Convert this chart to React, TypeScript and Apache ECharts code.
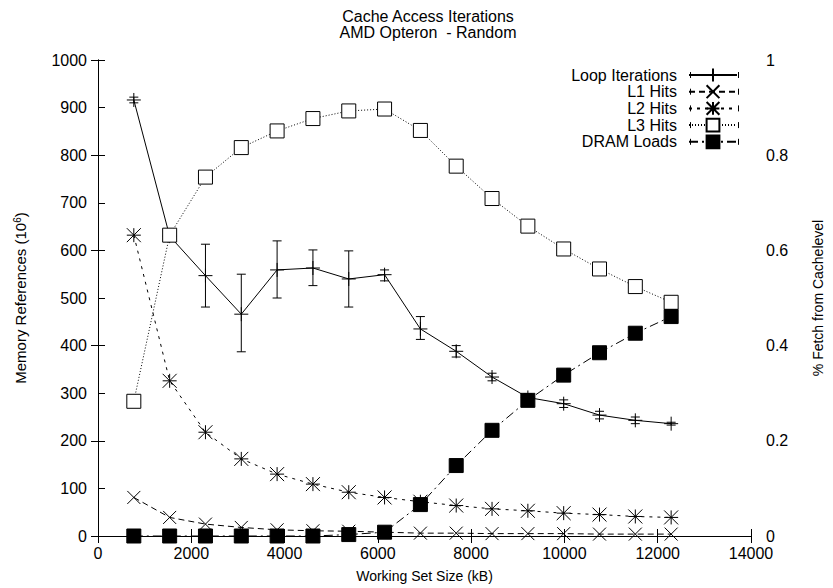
import React, { useEffect, useRef } from "react";
import * as echarts from "echarts";

const workingSetKB = [768, 1536, 2304, 3072, 3840, 4608, 5376, 6144, 6912, 7680, 8448, 9216, 9984, 10752, 11520, 12288];
const loopIterations = [916, 630, 547, 466, 559, 563, 540, 549, 435, 388, 334, 291, 278, 254, 243, 236];
const loopLow = [910, 625, 481, 387, 500, 526, 481, 536, 413, 376, 326, 283, 270, 246, 236, 233];
const loopHigh = [922, 635, 613, 550, 620, 601, 599, 559, 461, 400, 342, 299, 286, 262, 250, 239];
const l1Hits = [0.081, 0.039, 0.025, 0.018, 0.013, 0.011, 0.01, 0.008, 0.006, 0.006, 0.005, 0.005, 0.005, 0.004, 0.004, 0.004];
const l2Hits = [0.632, 0.326, 0.218, 0.162, 0.13, 0.109, 0.092, 0.081, 0.072, 0.064, 0.057, 0.053, 0.048, 0.045, 0.041, 0.039];
const l3Hits = [0.283, 0.632, 0.754, 0.816, 0.851, 0.877, 0.893, 0.897, 0.852, 0.777, 0.709, 0.651, 0.603, 0.561, 0.524, 0.491];
const dramLoads = [0, 0, 0, 0, 0, 0, 0.003, 0.008, 0.066, 0.148, 0.222, 0.285, 0.338, 0.385, 0.426, 0.461];
const seriesNames = ["Loop Iterations", "L1 Hits", "L2 Hits", "L3 Hits", "DRAM Loads"];

const FONT = "'Liberation Sans', Arial, Helvetica, sans-serif";
const PLUS = "path://M0,5L10,5M5,0L5,10";
const CROSS = "path://M0,0L10,10M10,0L0,10";
const STAR = "path://M0,0L10,10M10,0L0,10M5,0L5,10M0,5L10,5";

export default function App() {
  const ref = useRef<HTMLDivElement>(null);
  useEffect(() => {
    if (!ref.current) return;
    const chart = echarts.init(ref.current, null, { renderer: "svg" });
    const pairs = (ys: number[]) => workingSetKB.map((x, i) => [x, ys[i]]);
    const plain = (v: number) => String(v);

    const legendTop = 67;
    const itemH = 16;
    const itemGap = 0.7;
    const legendIconLeft = 690;
    const legendIconRight = 738;
    const caps: any[] = [];
    seriesNames.forEach((_, i) => {
      const cy = legendTop + itemH / 2 + i * (itemH + itemGap);
      [legendIconLeft, legendIconRight].forEach((cx) => {
        caps.push({
          type: "line",
          shape: { x1: cx + 0.5, y1: cy - 3, x2: cx + 0.5, y2: cy + 3 },
          style: { stroke: "#000", lineWidth: 1 },
          silent: true,
        });
      });
    });

    const symStyle = { color: "#000", borderColor: "#000", borderWidth: 1 };
    const tickFont = { fontSize: 16, color: "#000", fontFamily: FONT };

    chart.setOption({
      animation: false,
      backgroundColor: "#fff",
      textStyle: { fontFamily: FONT, color: "#000" },
      grid: { left: 98, right: 75, top: 60, bottom: 50 },
      graphic: [
        {
          type: "text",
          x: 428,
          y: 16,
          style: { text: "Cache Access Iterations", fontSize: 16, fontFamily: FONT, fill: "#000", textAlign: "center", textVerticalAlign: "middle" },
        },
        {
          type: "text",
          x: 428,
          y: 32,
          style: { text: "AMD Opteron  - Random", fontSize: 16, fontFamily: FONT, fill: "#000", textAlign: "center", textVerticalAlign: "middle" },
        },
        ...caps,
      ],
      legend: {
        orient: "vertical",
        right: 833 - legendIconRight,
        top: legendTop,
        padding: 0,
        align: "right",
        itemWidth: legendIconRight - legendIconLeft,
        itemHeight: itemH,
        itemGap: itemGap,
        data: seriesNames,
        textStyle: { fontSize: 16, color: "#000", fontFamily: FONT, padding: [0, 7, 0, 0] },
      },
      xAxis: [
        {
          type: "value",
          min: 0,
          max: 14000,
          interval: 2000,
          name: "Working Set Size (kB)",
          nameLocation: "middle",
          nameGap: 33,
          nameTextStyle: { fontSize: 14, color: "#000", fontFamily: FONT },
          axisLine: { lineStyle: { color: "#000", width: 1 } },
          axisTick: { inside: true, length: 7, lineStyle: { color: "#000" } },
          axisLabel: { ...tickFont, margin: 9, formatter: plain },
          splitLine: { show: false },
        },
        {
          type: "value",
          position: "top",
          min: 0,
          max: 14000,
          interval: 2000,
          axisLine: { lineStyle: { color: "#000", width: 1 } },
          axisTick: { inside: true, length: 7, lineStyle: { color: "#000" } },
          axisLabel: { show: false },
          splitLine: { show: false },
        },
      ],
      yAxis: [
        {
          type: "value",
          min: 0,
          max: 1000,
          interval: 100,
          name: "{a|Memory References (10}{s|6}{a|)}",
          nameLocation: "middle",
          nameGap: 69,
          nameTextStyle: {
            rich: {
              a: { fontSize: 15, color: "#000", fontFamily: FONT },
              s: { fontSize: 10, color: "#000", fontFamily: FONT, padding: [0, 0, 7, 0] },
            },
          },
          axisLine: { show: true, lineStyle: { color: "#000", width: 1 } },
          axisTick: { show: true, inside: true, length: 7, lineStyle: { color: "#000" } },
          axisLabel: { ...tickFont, margin: 11, formatter: plain },
          splitLine: { show: false },
        },
        {
          type: "value",
          min: 0,
          max: 1,
          interval: 0.2,
          position: "right",
          name: "% Fetch from Cachelevel",
          nameLocation: "middle",
          nameGap: 60,
          nameTextStyle: { fontSize: 14, color: "#000", fontFamily: FONT },
          axisLine: { show: true, lineStyle: { color: "#000", width: 1 } },
          axisTick: { show: true, inside: true, length: 7, lineStyle: { color: "#000" } },
          axisLabel: { ...tickFont, margin: 15, formatter: plain },
          splitLine: { show: false },
        },
      ],
      series: [
        {
          type: "custom",
          name: "errors",
          yAxisIndex: 0,
          silent: true,
          z: 1,
          data: workingSetKB.map((x, i) => [x, loopLow[i], loopHigh[i]]),
          encode: { x: 0, y: [1, 2] },
          renderItem: (params: any, api: any) => {
            const x = api.value(0);
            const lo = api.coord([x, api.value(1)]);
            const hi = api.coord([x, api.value(2)]);
            const w = 4.5;
            const st = { stroke: "#000", lineWidth: 1 };
            return {
              type: "group",
              children: [
                { type: "line", shape: { x1: lo[0], y1: lo[1], x2: hi[0], y2: hi[1] }, style: st },
                { type: "line", shape: { x1: lo[0] - w, y1: lo[1], x2: lo[0] + w, y2: lo[1] }, style: st },
                { type: "line", shape: { x1: hi[0] - w, y1: hi[1], x2: hi[0] + w, y2: hi[1] }, style: st },
              ],
            };
          },
        },
        {
          type: "line",
          name: "Loop Iterations",
          yAxisIndex: 0,
          data: pairs(loopIterations),
          symbol: PLUS,
          symbolSize: 14,
          itemStyle: symStyle,
          lineStyle: { color: "#000", width: 1, type: "solid" },
          z: 3,
        },
        {
          type: "line",
          name: "L1 Hits",
          yAxisIndex: 1,
          data: pairs(l1Hits),
          symbol: CROSS,
          symbolSize: 13,
          itemStyle: symStyle,
          lineStyle: { color: "#000", width: 1, type: [6, 4] },
          z: 3,
        },
        {
          type: "line",
          name: "L2 Hits",
          yAxisIndex: 1,
          data: pairs(l2Hits),
          symbol: STAR,
          symbolSize: 14,
          itemStyle: symStyle,
          lineStyle: { color: "#000", width: 1, type: [3, 5] },
          z: 3,
        },
        {
          type: "line",
          name: "L3 Hits",
          yAxisIndex: 1,
          data: pairs(l3Hits),
          symbol: "rect",
          symbolSize: 14,
          itemStyle: { color: "#fff", borderColor: "#000", borderWidth: 1 },
          lineStyle: { color: "#000", width: 1, type: [1, 2] },
          z: 3,
        },
        {
          type: "line",
          name: "DRAM Loads",
          yAxisIndex: 1,
          data: pairs(dramLoads),
          symbol: "rect",
          symbolSize: 14,
          itemStyle: { color: "#000", borderColor: "#000", borderWidth: 1 },
          lineStyle: { color: "#000", width: 1, type: [9, 4, 2, 4] },
          z: 4,
        },
      ],
    });
    return () => chart.dispose();
  }, []);
  return <div ref={ref} style={{ position: "fixed", left: 0, top: 0, width: 833, height: 588 }} />;
}
